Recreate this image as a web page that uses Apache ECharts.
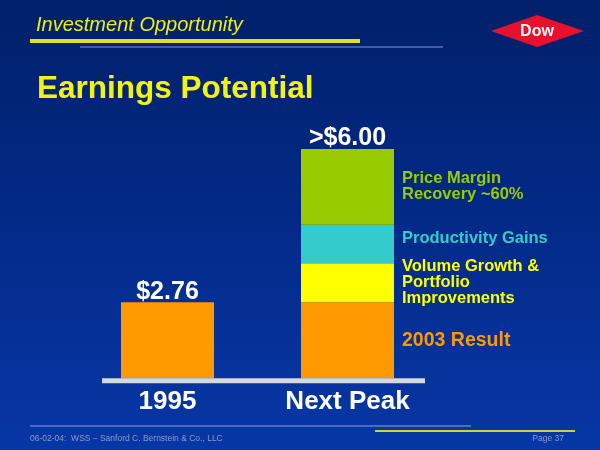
<!DOCTYPE html>
<html>
<head>
<meta charset="utf-8">
<script src="https://cdn.jsdelivr.net/npm/echarts@6/dist/echarts.min.js"></script>
<style>
html,body{margin:0;padding:0;background:#02216c;}
#chart{width:600px;height:450px;}
</style>
</head>
<body>
<div id="chart"></div>
<script>
// ---- data ----
const categories = ['1995', 'Next Peak'];
const result2003 = [2.76, 2.76];
const volumeGrowth = [null, 1.42];
const productivity = [null, 1.40];
const priceMargin = [null, 2.75];
const totalLabels = ['$2.76', '>$6.00'];
const seriesNames = ['2003 Result', 'Volume Growth & Portfolio Improvements', 'Productivity Gains', 'Price Margin Recovery ~60%'];
const segmentLabels = ['2003 Result', 'Volume Growth &\nPortfolio\nImprovements', 'Productivity Gains', 'Price Margin\nRecovery ~60%'];
const segmentColors = ['#ff9900', '#ffff00', '#33cccc', '#99cc00'];

const totals = categories.map((c, i) =>
  [result2003, volumeGrowth, productivity, priceMargin].reduce((s, arr) => s + (arr[i] || 0), 0));

const FONT = '"Liberation Sans", Arial, sans-serif';

function segLabel(idx, size, extra) {
  return Object.assign({
    show: true,
    position: 'right',
    distance: 8,
    color: segmentColors[idx],
    fontFamily: FONT,
    fontWeight: 'bold',
    fontSize: size,
    lineHeight: 16,
    formatter: p => (p.dataIndex === 1 ? segmentLabels[idx] : '')
  }, extra || {});
}

function segSeries(idx, data, label) {
  return {
    name: seriesNames[idx],
    type: 'bar',
    stack: 'total',
    barWidth: 93,
    data: data,
    itemStyle: { color: segmentColors[idx], opacity: 1 },
    label: label,
    emphasis: { disabled: true }
  };
}

const chart = echarts.init(document.getElementById('chart'), null, { renderer: 'canvas' });
chart.setOption({
  animation: false,
  backgroundColor: {
    type: 'linear', x: 0, y: 0, x2: 0, y2: 1,
    colorStops: [
      { offset: 0, color: '#01206a' },
      { offset: 0.5, color: '#032a88' },
      { offset: 1, color: '#0737a6' }
    ]
  },
  grid: { left: 77.5, right: 162.5, top: 102.9, bottom: 71.7, containLabel: false },
  xAxis: {
    type: 'category',
    data: categories,
    axisLine: { show: false },
    axisTick: { show: false },
    axisLabel: {
      color: '#ffffff',
      fontFamily: FONT,
      fontWeight: 'bold',
      fontSize: 26,
      margin: 11
    }
  },
  yAxis: {
    type: 'value', min: 0, max: 10,
    show: false,
    splitLine: { show: false }
  },
  series: [
    segSeries(0, result2003, segLabel(0, 19.5, { lineHeight: 20 })),
    segSeries(1, volumeGrowth, segLabel(1, 16.5)),
    segSeries(2, productivity, segLabel(2, 16.5, { offset: [0, -5] })),
    segSeries(3, priceMargin, segLabel(3, 16.5)),
    {
      name: 'Total',
      type: 'scatter',
      symbolSize: 0,
      data: totals,
      itemStyle: { opacity: 1 },
      label: {
        show: true,
        position: 'top',
        distance: 2,
        offset: [0, 4],
        color: '#ffffff',
        opacity: 1,
        fontFamily: FONT,
        fontWeight: 'bold',
        fontSize: 25,
        formatter: p => totalLabels[p.dataIndex]
      },
      emphasis: { disabled: true },
      z: 10
    }
  ],
  graphic: [
    // baseline
    { type: 'rect', z: 100, shape: { x: 102, y: 378.3, width: 323, height: 5 }, style: { fill: '#d6d8e0' } },
    // header
    { type: 'text', z: 100, left: 36, top: 15, style: { text: 'Investment Opportunity', fill: '#eeee10', font: 'italic 20px ' + FONT } },
    { type: 'rect', z: 100, shape: { x: 30, y: 39, width: 330, height: 4 }, style: { fill: '#e2e21c' } },
    { type: 'rect', z: 100, shape: { x: 80, y: 46.5, width: 363, height: 1 }, style: { fill: '#8195d8' } },
    { type: 'text', z: 100, left: 37, top: 73, style: { text: 'Earnings Potential', fill: '#f4f40a', font: 'bold 31.5px ' + FONT } },
    // logo
    { type: 'polygon', z: 100, shape: { points: [[491, 31], [537, 15], [584, 31], [537, 47]] }, style: { fill: '#e8112d' } },
    { type: 'text', z: 101, x: 537, y: 32, style: { text: 'Dow', fill: '#ffffff', font: 'bold 16px ' + FONT, align: 'center', verticalAlign: 'middle' } },
    // footer
    { type: 'rect', z: 100, shape: { x: 30, y: 425.5, width: 441, height: 1 }, style: { fill: '#8ea2e6' } },
    { type: 'rect', z: 100, shape: { x: 375, y: 430, width: 200, height: 2 }, style: { fill: '#cfd528' } },
    { type: 'text', z: 100, x: 30, y: 438.5, style: { text: '06-02-04:  WSS \u2013 Sanford C. Bernstein & Co., LLC', fill: '#8c9cc8', font: '8.5px ' + FONT, verticalAlign: 'middle' } },
    { type: 'text', z: 100, x: 564, y: 439, style: { text: 'Page 37', fill: '#8c9cc8', font: '8.5px ' + FONT, align: 'right', verticalAlign: 'middle' } }
  ]
});
</script>
</body>
</html>
